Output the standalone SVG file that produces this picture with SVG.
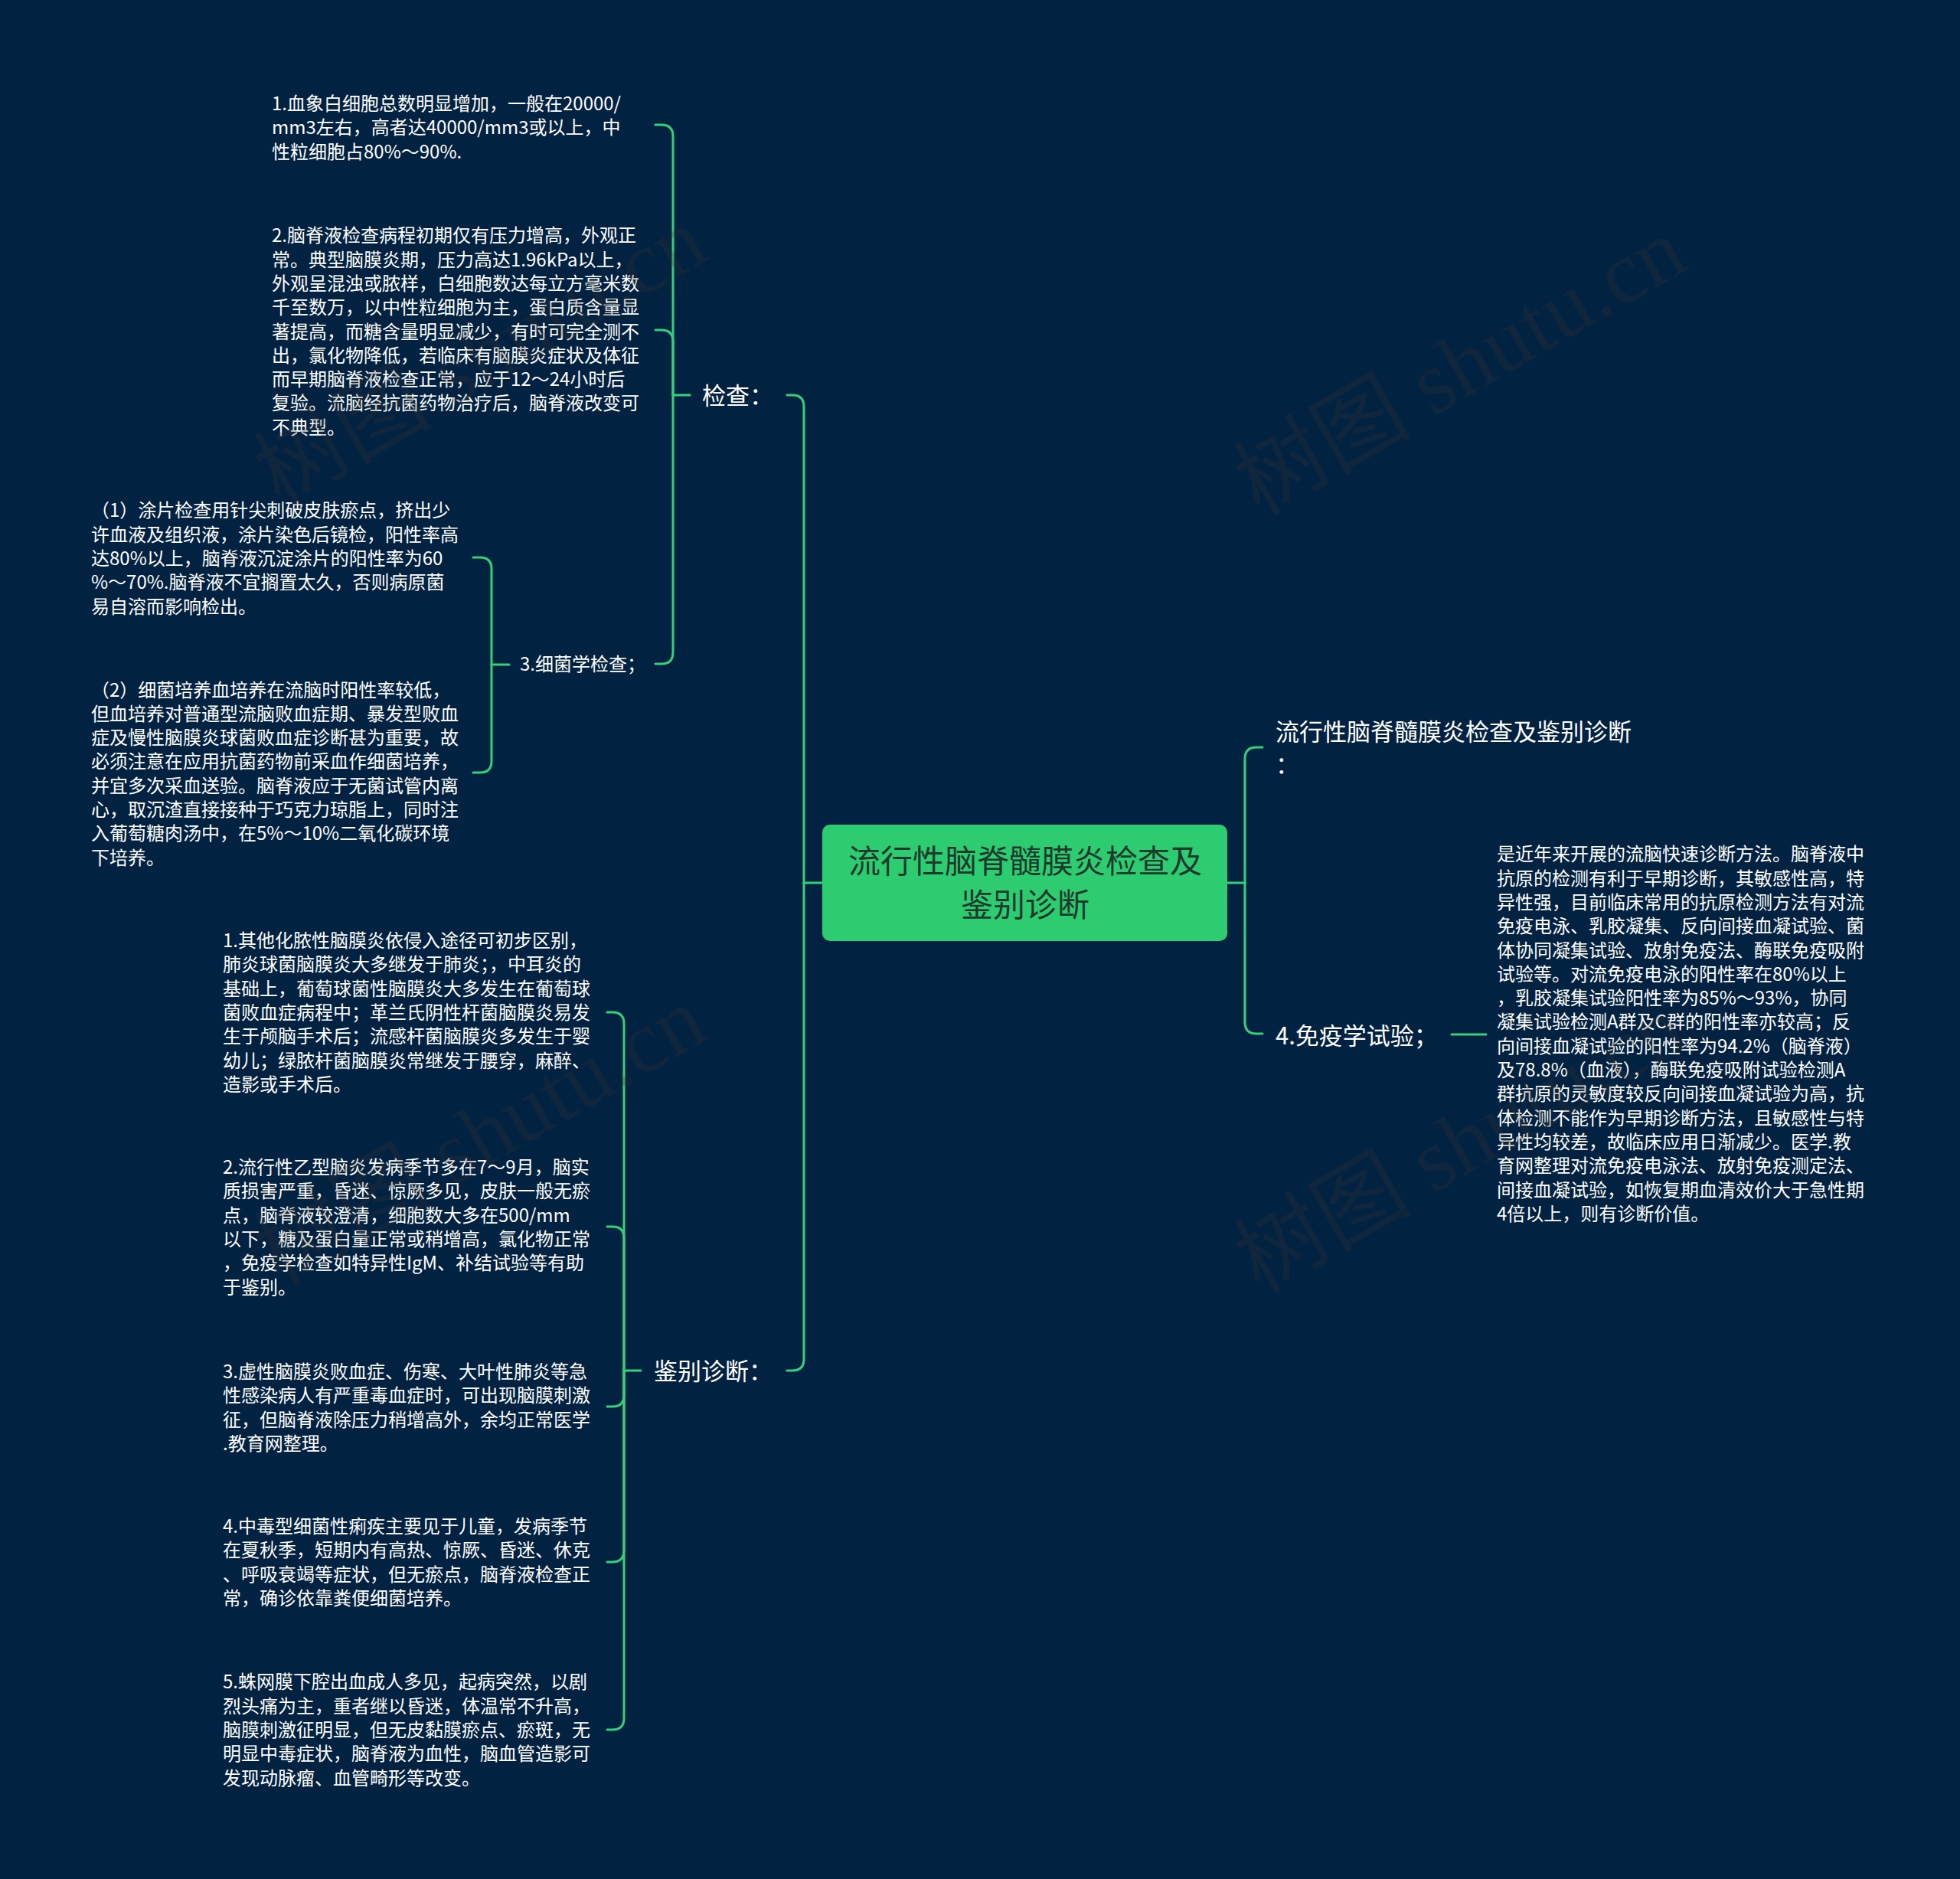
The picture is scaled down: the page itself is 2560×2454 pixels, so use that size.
<svg xmlns="http://www.w3.org/2000/svg" width="2560" height="2454" viewBox="0 0 2560 2454">
<style>
.p{font-family:"Noto Sans CJK SC","Microsoft YaHei",sans-serif;font-size:24px;fill:#ffffff}
.l1{font-family:"Noto Sans CJK SC","Microsoft YaHei",sans-serif;font-size:31px;fill:#ffffff}
.root{font-family:"Noto Sans CJK SC","Microsoft YaHei",sans-serif;font-size:42px;fill:#1e3a2c;text-anchor:middle}
.c{fill:none;stroke:#36cf7a;stroke-width:3;stroke-linecap:round;stroke-linejoin:round}
.wm{font-family:"Liberation Serif","Noto Sans CJK SC",serif;font-size:116px;fill:#3b352d;fill-opacity:0.24}
</style>
<rect x="0" y="0" width="2560" height="2454" fill="#022242"/>

<g id="connectors">
<path class="c" d="M1074 1153 H1050"/>
<path class="c" d="M1050 1153 V531 Q1050 516 1035 516 H1028"/>
<path class="c" d="M1050 1153 V1775 Q1050 1790 1035 1790 H1028"/>
<path class="c" d="M1603 1153 H1626"/>
<path class="c" d="M1626 1153 V991 Q1626 976 1641 976 H1649"/>
<path class="c" d="M1626 1153 V1335 Q1626 1350 1641 1350 H1649"/>
<path class="c" d="M1896 1351 H1941"/>
<path class="c" d="M901 516 H879"/>
<path class="c" d="M879 516 V178 Q879 163 864 163 H856"/>
<path class="c" d="M879 516 V446 Q879 431 864 431 H856"/>
<path class="c" d="M879 516 V852 Q879 867 864 867 H856"/>
<path class="c" d="M665 868 H642"/>
<path class="c" d="M642 868 V743 Q642 728 627 728 H618"/>
<path class="c" d="M642 868 V994 Q642 1009 627 1009 H618"/>
<path class="c" d="M837 1790 H815"/>
<path class="c" d="M815 1790 V1337 Q815 1322 800 1322 H793"/>
<path class="c" d="M815 1790 V1617 Q815 1602 800 1602 H793"/>
<path class="c" d="M815 1790 V1822 Q815 1837 800 1837 H793"/>
<path class="c" d="M815 1790 V2025 Q815 2040 800 2040 H793"/>
<path class="c" d="M815 1790 V2244 Q815 2259 800 2259 H793"/>
</g>

<g id="root">
<rect x="1074" y="1077" width="529" height="152" rx="10" fill="#2ecc71"/>
<text class="root"><tspan x="1339" y="1140">流行性脑脊髓膜炎检查及</tspan><tspan x="1339" y="1197">鉴别诊断</tspan></text>
</g>

<g id="n-jiancha"><text class="l1" x="917" y="528">检查：</text></g>
<g id="n-jianbie"><text class="l1" x="854" y="1802">鉴别诊断：</text></g>
<g id="n-title"><text class="l1"><tspan x="1666" y="967">流行性脑脊髓膜炎检查及鉴别诊断</tspan><tspan x="1666" y="1010">：</tspan></text></g>
<g id="n-mianyi"><text class="l1" x="1666" y="1364">4.免疫学试验；</text></g>
<g id="n-xijun"><text class="p" x="679" y="876">3.细菌学检查；</text></g>

<g id="n-a1"><text class="p"><tspan x="355" y="144">1.血象白细胞总数明显增加，一般在20000/</tspan><tspan x="355" dy="31.3">mm3左右，高者达40000/mm3或以上，中</tspan><tspan x="355" dy="31.3">性粒细胞占80%～90%.</tspan></text></g>

<g id="n-a2"><text class="p"><tspan x="355" y="316.3">2.脑脊液检查病程初期仅有压力增高，外观正</tspan><tspan x="355" dy="31.3">常。典型脑膜炎期，压力高达1.96kPa以上，</tspan><tspan x="355" dy="31.3">外观呈混浊或脓样，白细胞数达每立方毫米数</tspan><tspan x="355" dy="31.3">千至数万，以中性粒细胞为主，蛋白质含量显</tspan><tspan x="355" dy="31.3">著提高，而糖含量明显减少，有时可完全测不</tspan><tspan x="355" dy="31.3">出，氯化物降低，若临床有脑膜炎症状及体征</tspan><tspan x="355" dy="31.3">而早期脑脊液检查正常，应于12～24小时后</tspan><tspan x="355" dy="31.3">复验。流脑经抗菌药物治疗后，脑脊液改变可</tspan><tspan x="355" dy="31.3">不典型。</tspan></text></g>

<g id="n-a3a"><text class="p"><tspan x="119" y="675.4">（1）涂片检查用针尖刺破皮肤瘀点，挤出少</tspan><tspan x="119" dy="31.3">许血液及组织液，涂片染色后镜检，阳性率高</tspan><tspan x="119" dy="31.3">达80%以上，脑脊液沉淀涂片的阳性率为60</tspan><tspan x="119" dy="31.3">%～70%.脑脊液不宜搁置太久，否则病原菌</tspan><tspan x="119" dy="31.3">易自溶而影响检出。</tspan></text></g>

<g id="n-a3b"><text class="p"><tspan x="119" y="909.5">（2）细菌培养血培养在流脑时阳性率较低，</tspan><tspan x="119" dy="31.3">但血培养对普通型流脑败血症期、暴发型败血</tspan><tspan x="119" dy="31.3">症及慢性脑膜炎球菌败血症诊断甚为重要，故</tspan><tspan x="119" dy="31.3">必须注意在应用抗菌药物前采血作细菌培养，</tspan><tspan x="119" dy="31.3">并宜多次采血送验。脑脊液应于无菌试管内离</tspan><tspan x="119" dy="31.3">心，取沉渣直接接种于巧克力琼脂上，同时注</tspan><tspan x="119" dy="31.3">入葡萄糖肉汤中，在5%～10%二氧化碳环境</tspan><tspan x="119" dy="31.3">下培养。</tspan></text></g>

<g id="n-b1"><text class="p"><tspan x="291" y="1237">1.其他化脓性脑膜炎依侵入途径可初步区别，</tspan><tspan x="291" dy="31.3">肺炎球菌脑膜炎大多继发于肺炎；，中耳炎的</tspan><tspan x="291" dy="31.3">基础上，葡萄球菌性脑膜炎大多发生在葡萄球</tspan><tspan x="291" dy="31.3">菌败血症病程中；革兰氏阴性杆菌脑膜炎易发</tspan><tspan x="291" dy="31.3">生于颅脑手术后；流感杆菌脑膜炎多发生于婴</tspan><tspan x="291" dy="31.3">幼儿；绿脓杆菌脑膜炎常继发于腰穿，麻醉、</tspan><tspan x="291" dy="31.3">造影或手术后。</tspan></text></g>

<g id="n-b2"><text class="p"><tspan x="291" y="1533">2.流行性乙型脑炎发病季节多在7～9月，脑实</tspan><tspan x="291" dy="31.3">质损害严重，昏迷、惊厥多见，皮肤一般无瘀</tspan><tspan x="291" dy="31.3">点，脑脊液较澄清，细胞数大多在500/mm</tspan><tspan x="291" dy="31.3">以下，糖及蛋白量正常或稍增高，氯化物正常</tspan><tspan x="291" dy="31.3">，免疫学检查如特异性IgM、补结试验等有助</tspan><tspan x="291" dy="31.3">于鉴别。</tspan></text></g>

<g id="n-b3"><text class="p"><tspan x="291" y="1800">3.虚性脑膜炎败血症、伤寒、大叶性肺炎等急</tspan><tspan x="291" dy="31.3">性感染病人有严重毒血症时，可出现脑膜刺激</tspan><tspan x="291" dy="31.3">征，但脑脊液除压力稍增高外，余均正常医学</tspan><tspan x="291" dy="31.3">.教育网整理。</tspan></text></g>

<g id="n-b4"><text class="p"><tspan x="291" y="2002">4.中毒型细菌性痢疾主要见于儿童，发病季节</tspan><tspan x="291" dy="31.3">在夏秋季，短期内有高热、惊厥、昏迷、休克</tspan><tspan x="291" dy="31.3">、呼吸衰竭等症状，但无瘀点，脑脊液检查正</tspan><tspan x="291" dy="31.3">常，确诊依靠粪便细菌培养。</tspan></text></g>

<g id="n-b5"><text class="p"><tspan x="291" y="2205.4">5.蛛网膜下腔出血成人多见，起病突然，以剧</tspan><tspan x="291" dy="31.3">烈头痛为主，重者继以昏迷，体温常不升高，</tspan><tspan x="291" dy="31.3">脑膜刺激征明显，但无皮黏膜瘀点、瘀斑，无</tspan><tspan x="291" dy="31.3">明显中毒症状，脑脊液为血性，脑血管造影可</tspan><tspan x="291" dy="31.3">发现动脉瘤、血管畸形等改变。</tspan></text></g>

<g id="n-c"><text class="p"><tspan x="1955" y="1124.3">是近年来开展的流脑快速诊断方法。脑脊液中</tspan><tspan x="1955" dy="31.3">抗原的检测有利于早期诊断，其敏感性高，特</tspan><tspan x="1955" dy="31.3">异性强，目前临床常用的抗原检测方法有对流</tspan><tspan x="1955" dy="31.3">免疫电泳、乳胶凝集、反向间接血凝试验、菌</tspan><tspan x="1955" dy="31.3">体协同凝集试验、放射免疫法、酶联免疫吸附</tspan><tspan x="1955" dy="31.3">试验等。对流免疫电泳的阳性率在80%以上</tspan><tspan x="1955" dy="31.3">，乳胶凝集试验阳性率为85%～93%，协同</tspan><tspan x="1955" dy="31.3">凝集试验检测A群及C群的阳性率亦较高；反</tspan><tspan x="1955" dy="31.3">向间接血凝试验的阳性率为94.2%（脑脊液）</tspan><tspan x="1955" dy="31.3">及78.8%（血液），酶联免疫吸附试验检测A</tspan><tspan x="1955" dy="31.3">群抗原的灵敏度较反向间接血凝试验为高，抗</tspan><tspan x="1955" dy="31.3">体检测不能作为早期诊断方法，且敏感性与特</tspan><tspan x="1955" dy="31.3">异性均较差，故临床应用日渐减少。医学.教</tspan><tspan x="1955" dy="31.3">育网整理对流免疫电泳法、放射免疫测定法、</tspan><tspan x="1955" dy="31.3">间接血凝试验，如恢复期血清效价大于急性期</tspan><tspan x="1955" dy="31.3">4倍以上，则有诊断价值。</tspan></text></g>

<g id="watermarks">
<text class="wm" transform="translate(365,662) rotate(-30)">树图 shutu.cn</text>
<text class="wm" transform="translate(1645,675) rotate(-30)">树图 shutu.cn</text>
<text class="wm" transform="translate(365,1680) rotate(-30)">树图 shutu.cn</text>
<text class="wm" transform="translate(1645,1690) rotate(-30)">树图 shutu.cn</text>
</g>
</svg>
